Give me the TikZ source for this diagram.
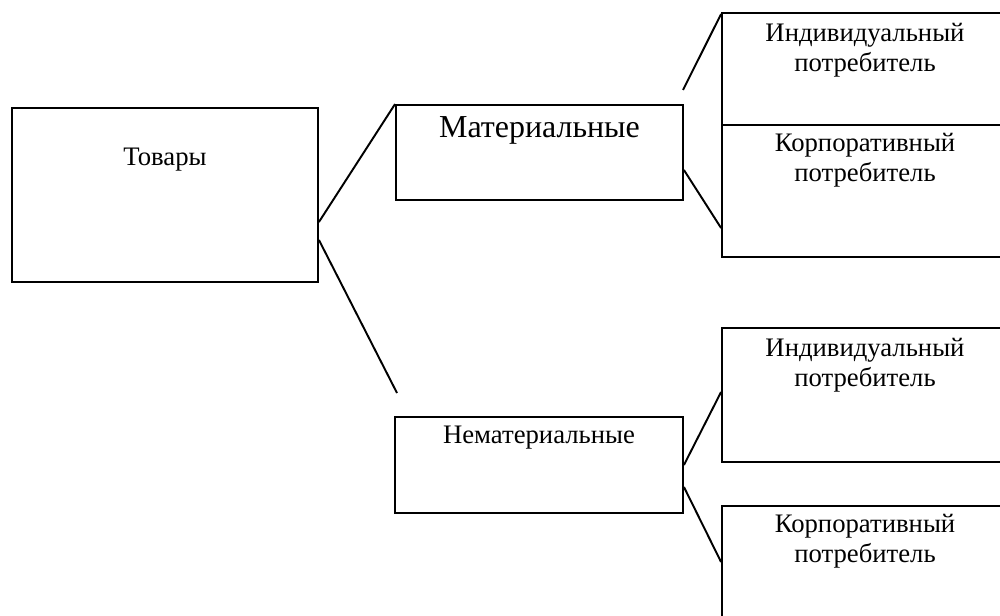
\documentclass[tikz,border=0pt]{standalone}
\usepackage{fontspec}
\setmainfont{Liberation Serif}
\usetikzlibrary{calc}
\begin{document}
\begin{tikzpicture}[x=0.02cm,y=-0.02cm,
  box/.style={draw,line width=1.1pt,rectangle,inner sep=0pt,minimum width=#1},
  txt/.style={font=\fontsize{15.2}{17.2}\selectfont,align=center,inner sep=0pt},
  bigtxt/.style={font=\fontsize{18.2}{20}\selectfont,inner sep=0pt},
  conn/.style={line width=1.1pt}]
\useasboundingbox (0,0) rectangle (1000,615);
\clip (0,0) rectangle (1000,615);
% boxes
\node[box=6.12cm,minimum height=3.48cm] (tov) at (165,195) {};
\node[box=5.74cm,minimum height=1.9cm] (mat) at (539.5,152.5) {};
\node[box=5.76cm,minimum height=1.92cm] (nemat) at (539,465) {};
\node[box=5.72cm,minimum height=2.24cm] (ind1) at (865,69) {};
\node[box=5.72cm,minimum height=2.64cm] (korp1) at (865,191) {};
\node[box=5.72cm,minimum height=2.68cm] (ind2) at (865,395) {};
\node[box=5.72cm,minimum height=2.68cm] (korp2) at (865,573) {};
% texts
\node[txt] (ttov) at ([yshift=-1.06cm]tov.north) {Товары};
\node[bigtxt] (tmat) at ([yshift=-0.53cm]mat.north) {Материальные};
\node[txt] (tnemat) at ([yshift=-0.43cm]nemat.north) {Нематериальные};
\node[txt] (tind1) at ([yshift=-0.77cm]ind1.north) {Индивидуальный\\потребитель};
\node[txt] (tkorp1) at ([yshift=-0.72cm]korp1.north) {Корпоративный\\потребитель};
\node[txt] (tind2) at ([yshift=-0.77cm]ind2.north) {Индивидуальный\\потребитель};
\node[txt] (tkorp2) at ([yshift=-0.73cm]korp2.north) {Корпоративный\\потребитель};
% free ends
\coordinate (nfree) at (397,393);
\coordinate (mfree) at (683,90);
% connectors
\draw[conn] ([yshift=-0.54cm]tov.east) -- (mat.north west);
\draw[conn] ([yshift=-0.9cm]tov.east) -- (nfree);
\draw[conn] (mfree) -- ([yshift=-0.04cm]ind1.north west);
\draw[conn] ([yshift=-0.35cm]mat.east) -- ([yshift=-0.74cm]korp1.west);
\draw[conn] (nemat.east) -- ([yshift=0.06cm]ind2.west);
\draw[conn] ([yshift=-0.44cm]nemat.east) -- ([yshift=0.22cm]korp2.west);
\end{tikzpicture}
\end{document}
